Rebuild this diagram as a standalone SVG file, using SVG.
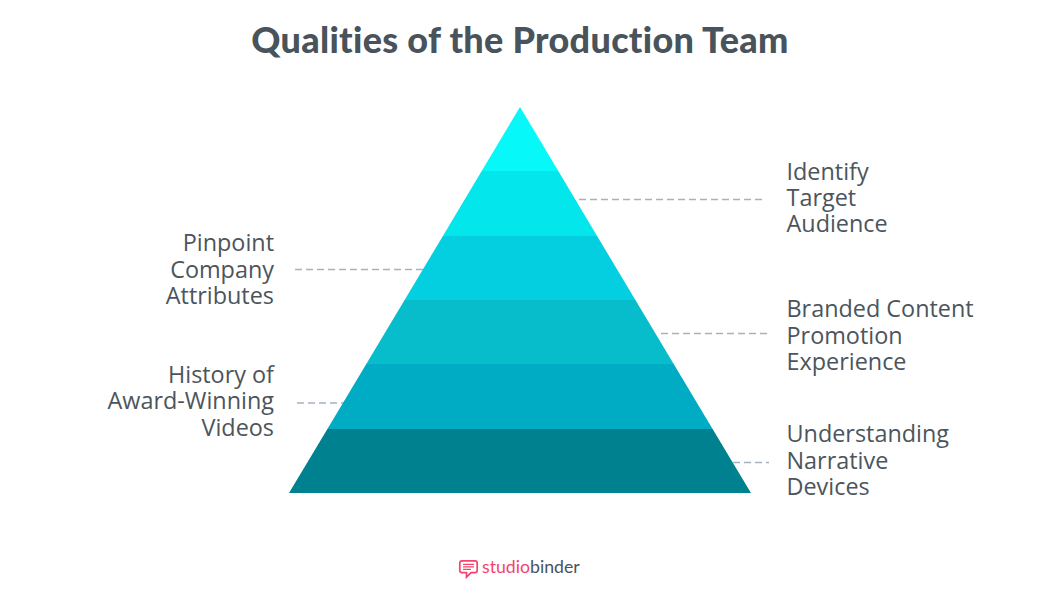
<svg xmlns="http://www.w3.org/2000/svg" width="1040" height="601" viewBox="0 0 1040 601">
<style>
.t{font-family:"Lato","Liberation Sans",sans-serif;font-weight:900;font-size:36px;letter-spacing:.3px;font-variant-ligatures:none;fill:#48535b}
.l{font-family:"Open Sans","Liberation Sans",sans-serif;font-size:23.4px;fill:#4c555c}
.r{text-anchor:end}
.c{stroke:#a5b2c0;stroke-width:1.3;stroke-dasharray:7 4;fill:none}
.b{font-family:"Lato","Liberation Sans",sans-serif;font-size:17.7px;font-weight:400;font-variant-ligatures:none}
</style>
<rect width="1040" height="601" fill="#fff"/>
<text class="t" x="520" y="53" text-anchor="middle" id="title">Qualities of the Production Team</text>
<g id="connectors">
<path class="c" d="M579 199.500H762"/>
<path class="c" d="M295 269.500H424"/>
<path class="c" d="M661 333.500H768"/>
<path class="c" d="M297 403H345"/>
<path class="c" d="M733 462.500H769"/>
</g>
<g id="pyramid">
<polygon id="tier1" fill="#07f8f8" points="520,107 558.300,171 481.700,171"/>
<polygon id="tier2" fill="#03e6ec" points="481.700,171 558.300,171 597.100,236 442.900,236"/>
<polygon id="tier3" fill="#03cfe0" points="442.900,236 597.100,236 635.400,300 404.600,300"/>
<polygon id="tier4" fill="#07bccb" points="404.600,300 635.400,300 673.700,364 366.300,364"/>
<polygon id="tier5" fill="#00abc4" points="366.300,364 673.700,364 712.600,429 327.400,429"/>
<polygon id="tier6" fill="#00818f" points="327.400,429 712.600,429 751,493 289,493"/>
</g>
<g id="label-identify"><text class="l" y="179.500"><tspan x="786.500">Identify</tspan><tspan x="786.500" y="206">Target</tspan><tspan x="786.500" y="231.500">Audience</tspan></text></g>
<g id="label-pinpoint"><text class="l r" y="250.500"><tspan x="274">Pinpoint</tspan><tspan x="274" y="277.500">Company</tspan><tspan x="274" y="303.500">Attributes</tspan></text></g>
<g id="label-branded"><text class="l" y="316.500"><tspan x="786.500">Branded Content</tspan><tspan x="786.500" y="343.500">Promotion</tspan><tspan x="786.500" y="369.500">Experience</tspan></text></g>
<g id="label-history"><text class="l r" y="382.500"><tspan x="274">History of</tspan><tspan x="274" y="408.500">Award-Winning</tspan><tspan x="274" y="435.500">Videos</tspan></text></g>
<g id="label-understanding"><text class="l" y="441.500"><tspan x="786.500">Understanding</tspan><tspan x="786.500" y="468.500">Narrative</tspan><tspan x="786.500" y="494.500">Devices</tspan></text></g>
<g id="logo">
<path d="M462 560.800H475Q477.200 560.800 477.200 563V570.500Q477.200 572.700 475 572.700H471L466.500 577.200V572.700H462Q459.800 572.700 459.800 570.500V563Q459.800 560.800 462 560.800Z" fill="none" stroke="#f2446f" stroke-width="1.7"/>
<path d="M463 564.300H474M463 566.800H474M463 569.300H471" stroke="#f2446f" stroke-width="1.2" fill="none"/>
<text class="b" x="482" y="573" fill="#f2446f">studio<tspan fill="#48535b">binder</tspan></text>
</g>
</svg>
